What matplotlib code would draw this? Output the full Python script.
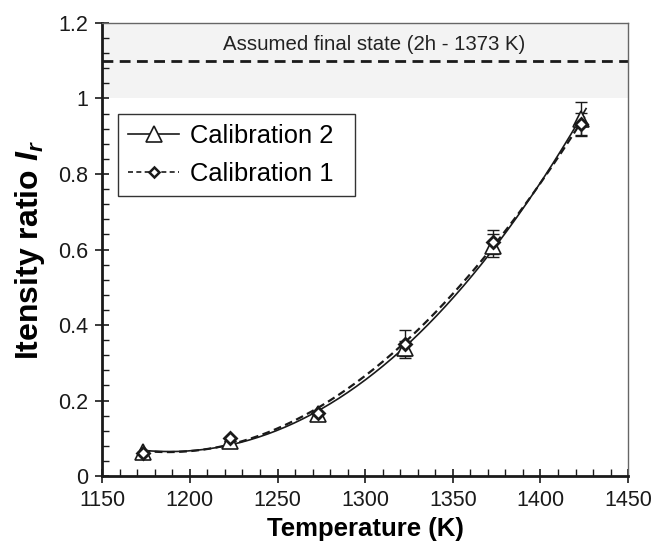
import numpy as np
import matplotlib
matplotlib.use('Agg')
import matplotlib.pyplot as plt
from matplotlib.ticker import MultipleLocator

plt.rcParams['font.family'] = ['Liberation Sans', 'DejaVu Sans']
plt.rcParams['mathtext.fontset'] = 'custom'
plt.rcParams['mathtext.rm'] = 'Liberation Sans'
plt.rcParams['mathtext.it'] = 'Liberation Sans:italic'
plt.rcParams['mathtext.bf'] = 'Liberation Sans:bold'
plt.rcParams['mathtext.bfit'] = 'Liberation Sans:bold:italic'

# data
temp = np.array([1173, 1223, 1273, 1323, 1373, 1423])
cal2 = np.array([0.065, 0.093, 0.165, 0.338, 0.610, 0.946])
cal1 = np.array([0.062, 0.100, 0.167, 0.351, 0.620, 0.932])
cal2_err = np.array([0.0, 0.0, 0.0, 0.02, 0.03, 0.045])
cal1_err = np.array([0.0, 0.0, 0.0, 0.037, 0.033, 0.03])
final_state = 1.1
band = (1.0, 1.2)

fig = plt.figure(figsize=(6.55, 5.46), dpi=100)
ax = fig.add_axes([0.156, 0.128, 0.803, 0.830])

ax.axhspan(band[0], band[1], color='#f3f3f3', zorder=0, lw=0)
ax.axhline(final_state, color='#1a1a1a', lw=2, dashes=(3.9, 2.3), zorder=1)
ax.text(1305, 1.143, 'Assumed final state (2h - 1373 K)', ha='center', va='center',
        fontsize=14.7, color='#222222')

# polynomial trend lines through the points
xf = np.linspace(1173, 1426, 200)
p2 = np.polyfit(temp, cal2, 3)
p1 = np.polyfit(temp, cal1, 3)
ax.plot(xf, np.polyval(p2, xf), color='#1a1a1a', lw=1.2, zorder=3)
ax.plot(xf, np.polyval(p1, xf), color='#1a1a1a', lw=1.6, dashes=(3.5, 2), zorder=3)

ax.errorbar(temp, cal2, yerr=cal2_err, fmt='none', ecolor='#1a1a1a', elinewidth=1,
            capsize=4, capthick=1, zorder=4)
ax.errorbar(temp, cal1, yerr=cal1_err, fmt='none', ecolor='#1a1a1a', elinewidth=1,
            capsize=4, capthick=1, zorder=4)
ax.plot(temp, cal2, ls='none', marker='^', ms=12, mfc='white', mec='#1a1a1a', mew=1.2, zorder=5)
ax.plot(temp, cal1, ls='none', marker='D', ms=6.5, mfc='white', mec='#1a1a1a', mew=2, zorder=6)

# legend proxies
h2, = ax.plot([], [], color='#1a1a1a', lw=1.2, marker='^', ms=12, mfc='white', mec='#1a1a1a', mew=1.2)
h1, = ax.plot([], [], color='#1a1a1a', lw=1.2, dashes=(3, 2), marker='D', ms=5, mfc='white',
              mec='#1a1a1a', mew=1.8)
leg = ax.legend([h2, h1], ['Calibration 2', 'Calibration 1'], loc='upper left',
                bbox_to_anchor=(0.03, 0.80, 0.45, 0.0), mode='expand', borderaxespad=0,
                fontsize=18.4, fancybox=False, edgecolor='#333333', framealpha=1,
                handlelength=2.0, handletextpad=0.4, borderpad=0.4, labelspacing=0.55)
leg.get_frame().set_linewidth(1.0)

ax.set_xlim(1150, 1450)
ax.set_ylim(0, 1.2)
ax.xaxis.set_major_locator(MultipleLocator(50))
ax.xaxis.set_minor_locator(MultipleLocator(10))
ax.yaxis.set_minor_locator(MultipleLocator(0.04))
ax.set_yticks([0, 0.2, 0.4, 0.6, 0.8, 1.0, 1.2])
ax.set_yticklabels(['0', '0.2', '0.4', '0.6', '0.8', '1', '1.2'])

ax.tick_params(which='major', direction='inout', length=10, width=1.2, labelsize=15.5,
               colors='#1a1a1a', pad=5, top=False, right=False)
ax.tick_params(which='minor', direction='in', length=5, width=1, colors='#1a1a1a',
               top=False, right=False)

for s in ['left', 'bottom']:
    ax.spines[s].set_linewidth(2)
    ax.spines[s].set_color('#1a1a1a')
for s in ['top', 'right']:
    ax.spines[s].set_linewidth(1)
    ax.spines[s].set_color('#666666')

ax.set_xlabel('Temperature (K)', fontsize=18.5, fontweight='bold', labelpad=4)
ax.set_ylabel(r'Itensity ratio $\mathbfit{I}_{\mathbfit{r}}$', fontsize=23,
              fontweight='bold', labelpad=8)

fig.savefig('out.png', dpi=100)
